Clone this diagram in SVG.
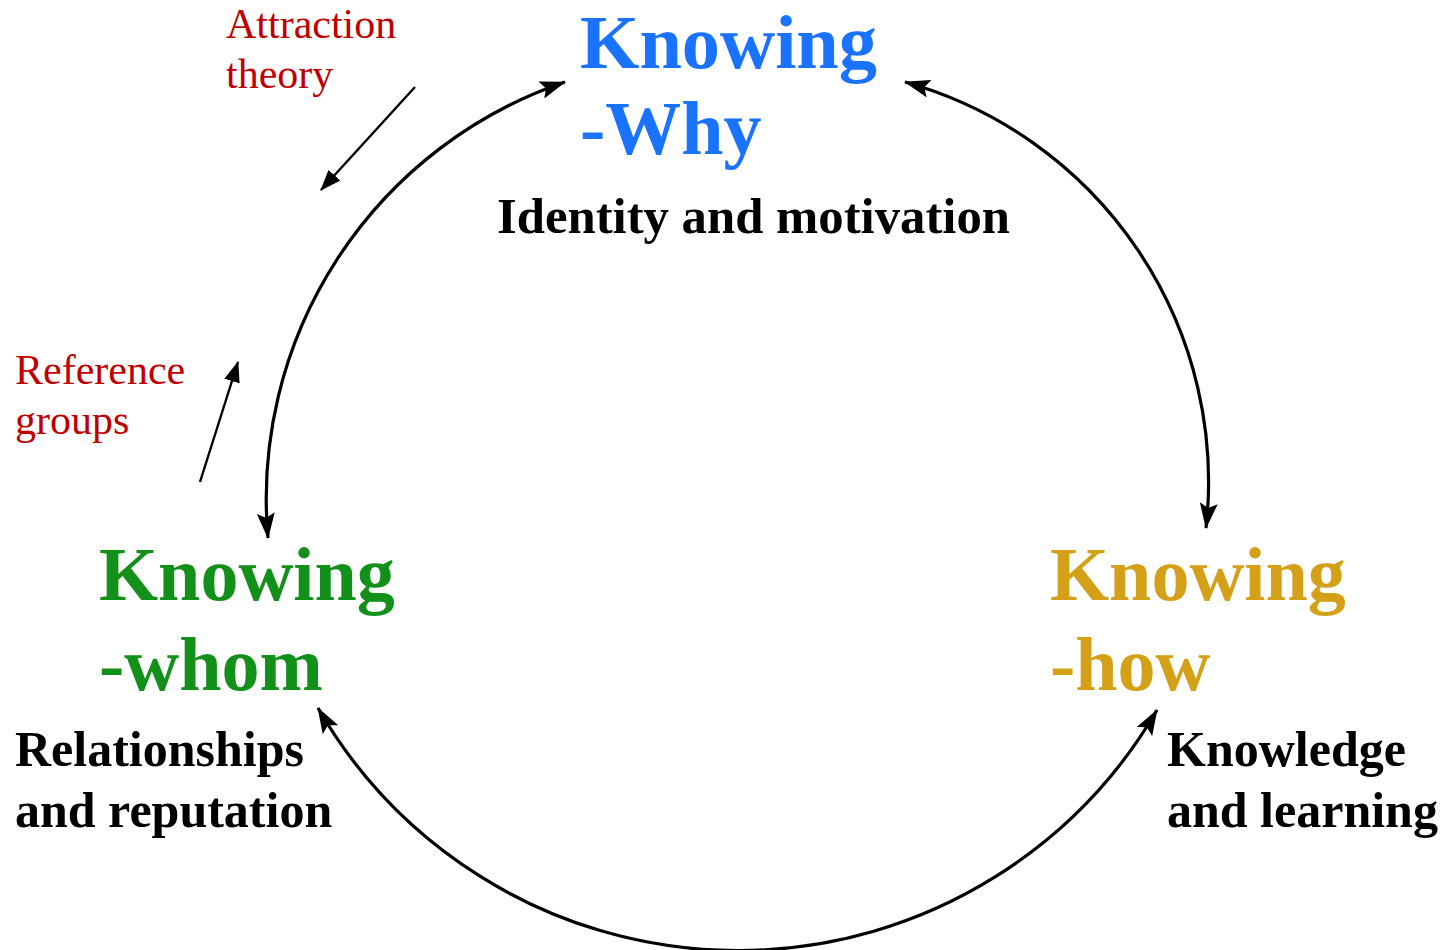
<svg xmlns="http://www.w3.org/2000/svg" width="1448" height="950" viewBox="0 0 1448 950">
<style>
.title{font-family:"Liberation Serif","Times New Roman",serif;font-weight:bold;font-size:76px}
.sub{font-family:"Liberation Serif","Times New Roman",serif;font-weight:bold;font-size:50px;fill:#000}
.note{font-family:"Liberation Serif","Times New Roman",serif;font-size:42px;fill:#C00000}
.arc{fill:none;stroke:#000;stroke-width:3.2;marker-start:url(#big);marker-end:url(#big)}
.thin{fill:none;stroke:#000;stroke-width:2.4;marker-end:url(#small)}
</style>
<defs>
<marker id="big" viewBox="0 0 26 18" refX="25" refY="9" markerWidth="26" markerHeight="18" markerUnits="userSpaceOnUse" orient="auto-start-reverse">
<path d="M0,0 L26,9 L0,18 L5,9 z" fill="#000"/>
</marker>
<marker id="small" viewBox="0 0 21 16" refX="20" refY="8" markerWidth="21" markerHeight="16" markerUnits="userSpaceOnUse" orient="auto">
<path d="M0,0 L21,8 L0,16 z" fill="#000"/>
</marker>
</defs>
<rect width="1448" height="950" fill="#fff"/>
<g id="connectors">
<path class="arc" d="M565 82 A440 440 0 0 0 268 538"/>
<path class="arc" d="M905 82 A415 415 0 0 1 1206 528"/>
<path class="arc" d="M318 708 A485 485 0 0 0 1157 710"/>
<path class="thin" d="M415 87 L321 190"/>
<path class="thin" d="M200 482 L238 362"/>
</g>
<g id="knowing-why">
<text class="title" fill="#1A73FF" x="580" y="68" font-size="75" textLength="297" lengthAdjust="spacingAndGlyphs">Knowing</text>
<text class="title" fill="#1A73FF" x="580" y="154">-Why</text>
<text class="sub" x="497" y="233" textLength="513" lengthAdjust="spacingAndGlyphs">Identity and motivation</text>
</g>
<g id="knowing-whom">
<text class="title" fill="#12901A" x="99" y="600">Knowing</text>
<text class="title" fill="#12901A" x="99" y="690">-whom</text>
<text class="sub" x="15" y="766">Relationships</text>
<text class="sub" x="15" y="827">and reputation</text>
</g>
<g id="knowing-how">
<text class="title" fill="#D4A017" x="1050" y="600">Knowing</text>
<text class="title" fill="#D4A017" x="1050" y="690">-how</text>
<text class="sub" x="1167" y="766">Knowledge</text>
<text class="sub" x="1167" y="827">and learning</text>
</g>
<g id="attraction-theory">
<text class="note" x="226" y="38">Attraction</text>
<text class="note" x="226" y="88">theory</text>
</g>
<g id="reference-groups">
<text class="note" x="15" y="384">Reference</text>
<text class="note" x="15" y="434">groups</text>
</g>
</svg>
